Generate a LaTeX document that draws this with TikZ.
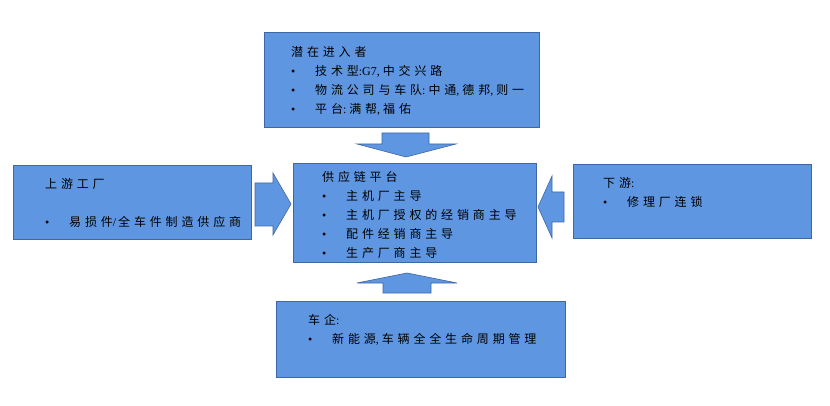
\documentclass[tikz,border=0pt]{standalone}
\usepackage{fontspec}
\newfontfamily\cjk{Noto Sans CJK SC}[LetterSpace=32]
\newfontfamily\lat{Liberation Serif}
\usetikzlibrary{calc}
\definecolor{boxblue}{RGB}{95,150,225}
\definecolor{edgeblue}{RGB}{62,104,165}
\newcommand\itm[1]{\makebox[24pt][l]{{\lat •}}#1}
\newcommand\la[1]{{\lat #1}}

\begin{document}
\begin{tikzpicture}[x=1pt,y=-1pt,
 box/.style={draw=edgeblue,fill=boxblue,line width=0.8pt,anchor=north west,inner sep=0pt},
 txt/.style={anchor=north west,inner sep=0pt,align=left,font=\cjk\fontsize{12pt}{19pt}\selectfont},
 blockarrow/.style={draw=edgeblue,fill=boxblue,line width=0.6pt}]
\useasboundingbox (0,0) rectangle (830,406);
\fill[white] (0,0) rectangle (830,406);
% boxes
\node[box,minimum width=275pt,minimum height=95pt] (entrant) at (264,32) {};
\node[box,minimum width=243pt,minimum height=99pt] (platform) at (293,163) {};
\node[box,minimum width=238pt,minimum height=74pt] (upstream) at (13,165) {};
\node[box,minimum width=238pt,minimum height=74pt] (downstream) at (573,164) {};
\node[box,minimum width=289pt,minimum height=76pt] (oem) at (276,301) {};
% texts
\node[txt] (entrantT) at ($(entrant.north west)+(27,14)$) {潜在进入者\\
 \itm{技术型\la{:G7,\ }中交兴路}\\
 \itm{物流公司与车队\la{:\ }中通\la{,\ }德邦\la{,\ }则一}\\
 \itm{平台\la{:\ }满帮\la{,\ }福佑}};
\node[txt] (platformT) at ($(platform.north west)+(29,8)$) {供应链平台\\
 \itm{主机厂主导}\\
 \itm{主机厂授权的经销商主导}\\
 \itm{配件经销商主导}\\
 \itm{生产厂商主导}};
\node[txt] (upstreamT) at ($(upstream.north west)+(32,13)$) {上游工厂\\[19pt]
 \itm{易损件\la{/\,}全车件制造供应商}};
\node[txt] (downstreamT) at ($(downstream.north west)+(30,13)$) {下游\la{:}\\
 \itm{修理厂连锁}};
\node[txt] (oemT) at ($(oem.north west)+(32,13)$) {车企\la{:}\\
 \itm{新能源\la{,\ }车辆全全生命周期管理}};
% block arrows
\draw[blockarrow] (382,133) -- (429,133) -- (429,144) -- (456,144) -- (406,157) -- (357,144) -- (382,144) -- cycle;
\draw[blockarrow] (383,293) -- (431,293) -- (431,283) -- (457,283) -- (407,273) -- (357,283) -- (383,283) -- cycle;
\draw[blockarrow] (255,183) -- (273,183) -- (273,173) -- (291,204) -- (273,235) -- (273,226) -- (255,226) -- cycle;
\draw[blockarrow] (564,192) -- (552,192) -- (552,176) -- (538,207) -- (552,238) -- (552,222) -- (564,222) -- cycle;
\end{tikzpicture}
\end{document}
